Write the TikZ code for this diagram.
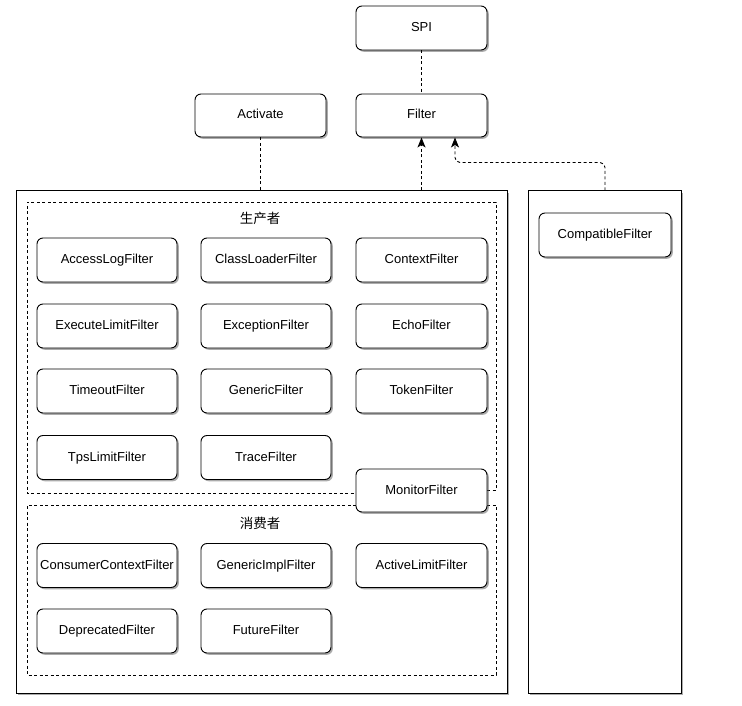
\documentclass[tikz,border=0pt]{standalone}
\usepackage{fontspec}
\setmainfont{Liberation Sans}
\newfontfamily\cjk{Noto Sans CJK SC}
\usetikzlibrary{shadows,arrows.meta}
\begin{document}
\begin{tikzpicture}[x=1pt,y=-1pt,
  shad/.style={drop shadow={shadow xshift=1.8pt, shadow yshift=-1.8pt, fill=black!65}},
  fbox/.style={draw, line width=0.9pt, rounded corners=6pt, fill=white, inner sep=0pt,
    minimum height=44pt, text height=9.5pt, text depth=2.5pt,
    font=\fontsize{13}{15}\selectfont, shad},
  wA/.style={fbox, minimum width=140pt},
  wB/.style={fbox, minimum width=130pt},
  wC/.style={fbox, minimum width=131pt},
  obox/.style={draw, line width=1pt, fill=white, inner sep=0pt, shad},
  dconn/.style={line width=0.9pt, dash pattern=on 3pt off 2.5pt},
  arr/.style={dconn, -{Stealth[length=10pt,width=8pt,inset=2.5pt]}},
  lbl/.style={font=\cjk\fontsize{13.5}{15}\selectfont, inner sep=0pt}
]
\useasboundingbox[fill=white] (0,0) rectangle (742,706);

% outer containers
\node[obox, minimum width=491pt, minimum height=502pt] (prod) at (261.5,442) {};
\node[obox, minimum width=153pt, minimum height=502pt] (rbox) at (604.5,442) {};

% top nodes
\node[wC] (spi) at (421.5,28) {SPI};
\node[wC, minimum height=43pt] (filter) at (421.5,115.5) {Filter};
\node[wC, minimum height=43pt] (act) at (260.5,115.5) {Activate};

% producer group
\draw[dconn] (487,490) -- (496,490) -- (496,202) -- (27,202) -- (27,493) -- (356,493);
\node[lbl] (plbl) at (260,218) {生产者};
\node[wA] (alog) at (107,260) {AccessLogFilter};
\node[wB] (cl) at (266,260) {ClassLoaderFilter};
\node[wC] (ctx) at (421.5,260) {ContextFilter};
\node[wA] (exl) at (107,326) {ExecuteLimitFilter};
\node[wB] (exc) at (266,326) {ExceptionFilter};
\node[wC] (echo) at (421.5,326) {EchoFilter};
\node[wA] (tmo) at (107,391) {TimeoutFilter};
\node[wB] (gen) at (266,391) {GenericFilter};
\node[wC] (tok) at (421.5,391) {TokenFilter};
\node[wA] (tps) at (107,457.5) {TpsLimitFilter};
\node[wB] (trc) at (266,457.5) {TraceFilter};

% consumer group
\draw[dconn] (356,505) -- (27,505) -- (27,675) -- (496,675) -- (496,505) -- (487,505);
\node[lbl] (clbl) at (260,523) {消费者};
\node[wA] (cctx) at (107,565.5) {ConsumerContextFilter};
\node[wB] (gimpl) at (266,565.5) {GenericImplFilter};
\node[wC] (alim) at (421.5,565.5) {ActiveLimitFilter};
\node[wA] (dep) at (107,631) {DeprecatedFilter};
\node[wB] (fut) at (266,631) {FutureFilter};

% monitor spans both groups
\node[wC, minimum height=43pt] (mon) at (421.5,490.5) {MonitorFilter};

% right container
\node[wC, minimum width=132pt] (comp) at (605,235) {CompatibleFilter};

% connectors
\draw[dconn] (spi) -- (filter);
\draw[dconn] (act) -- (act |- prod.north);
\draw[arr] (prod.north -| filter) -- (filter);
\coordinate (fin) at ([xshift=33.5pt]filter.south);
\draw[arr, rounded corners=5pt] (rbox.north -| comp) -- ++(0,-28) -| (fin);
\end{tikzpicture}
\end{document}
